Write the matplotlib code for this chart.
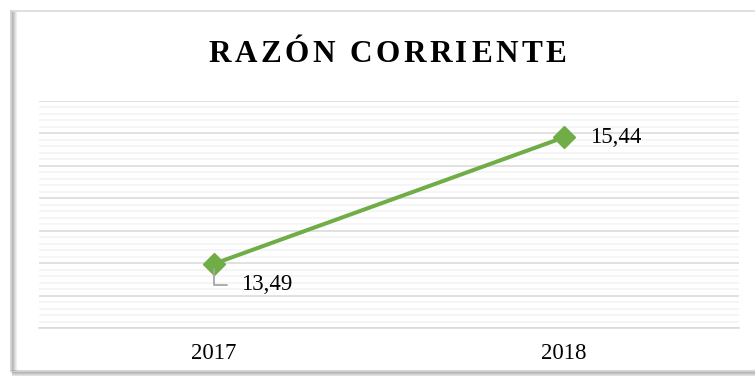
import matplotlib
matplotlib.use('Agg')
import matplotlib.pyplot as plt
from matplotlib.ticker import MultipleLocator
from matplotlib.transforms import IdentityTransform

years = ['2017', '2018']
ratio = [13.49, 15.44]
title = 'RAZÓN CORRIENTE'

W, H = 755, 376
SERIF = 'Liberation Serif'
GREEN = '#70AD47'


def spaced_text(fig, x, y, s, spacing, **kw):
    """Draw s centred on pixel x with extra spacing between letters."""
    renderer = fig.canvas.get_renderer()

    def width(t):
        tmp = fig.text(0, 0, t, **kw)
        w = tmp.get_window_extent(renderer).width
        tmp.remove()
        return w

    base = width('II')
    widths = [width('I' + c + 'I') - base for c in s]
    left = x - (sum(widths) + spacing * (len(s) - 1)) / 2
    for c, w in zip(s, widths):
        fig.text(left, y, c, transform=IdentityTransform(),
                 ha='left', va='baseline', **kw)
        left += w + spacing


fig = plt.figure(figsize=(W / 100, H / 100), dpi=100)
fig.patch.set_facecolor('white')

# chart frame with a soft shadow on the left and bottom edges
bg = fig.add_axes([0, 0, 1, 1], zorder=0)
bg.set_xlim(0, W)
bg.set_ylim(H, 0)
bg.axis('off')
bg.plot([10.5, W + 5], [10.5, 10.5], color='#D9D9D9', lw=1.2)
bg.plot([10.5, 10.5], [10.5, 370.5], color='#D0D0D0', lw=1.2)
bg.plot([10.5, W + 5], [370.5, 370.5], color='#D0D0D0', lw=1.2)
for i, a in enumerate([0.55, 0.4, 0.28, 0.18, 0.1]):
    bg.plot([12 + i, 12 + i], [12, 370], color='#808080', alpha=a, lw=0.9)
    bg.plot([12, W + 5], [372 + i, 372 + i], color='#808080', alpha=a, lw=0.9)

ax = fig.add_axes([39 / W, 1 - 328 / H, 700 / W, 227 / H], zorder=1)
ax.set_facecolor('none')
x = range(len(years))
ax.set_xlim(-0.5, len(years) - 0.5)
ax.set_ylim(12.5, 16)
ax.yaxis.set_major_locator(MultipleLocator(0.5))
ax.yaxis.set_minor_locator(MultipleLocator(0.1))
ax.set_axisbelow(True)
ax.grid(which='major', axis='y', color='#D9D9D9', lw=1.1)
ax.grid(which='minor', axis='y', color='#F2F2F2', lw=1.1)
ax.tick_params(axis='y', which='both', left=False, labelleft=False)
ax.set_xticks(list(x), years, fontfamily=SERIF, fontsize=16.5)
ax.tick_params(axis='x', length=0, pad=11)
for side in ['left', 'right', 'top']:
    ax.spines[side].set_visible(False)
ax.spines['bottom'].set_color('#D9D9D9')
ax.spines['bottom'].set_linewidth(1.1)

ax.plot(x, ratio, color=GREEN, lw=2.9, marker='D', ms=11,
        solid_capstyle='round', zorder=3)

labels = [f'{v:.2f}'.replace('.', ',') for v in ratio]
ax.annotate(labels[0], xy=(0, ratio[0]), xytext=(19.5, -15), textcoords='offset points',
            ha='left', va='center', fontfamily=SERIF, fontsize=16.5,
            arrowprops=dict(arrowstyle='-', color='#A6A6A6', lw=1.3,
                            connectionstyle='angle,angleA=0,angleB=90,rad=0',
                            relpos=(0, 0.5), shrinkA=8, shrinkB=4))
ax.annotate(labels[1], xy=(1, ratio[1]), xytext=(18.5, 0), textcoords='offset points',
            ha='left', va='center', fontfamily=SERIF, fontsize=16.5)

spaced_text(fig, 387.5, H - 62, title, 3.5,
            fontfamily=SERIF, fontsize=22.5, fontweight='bold')

fig.savefig('out.png', dpi=100)
